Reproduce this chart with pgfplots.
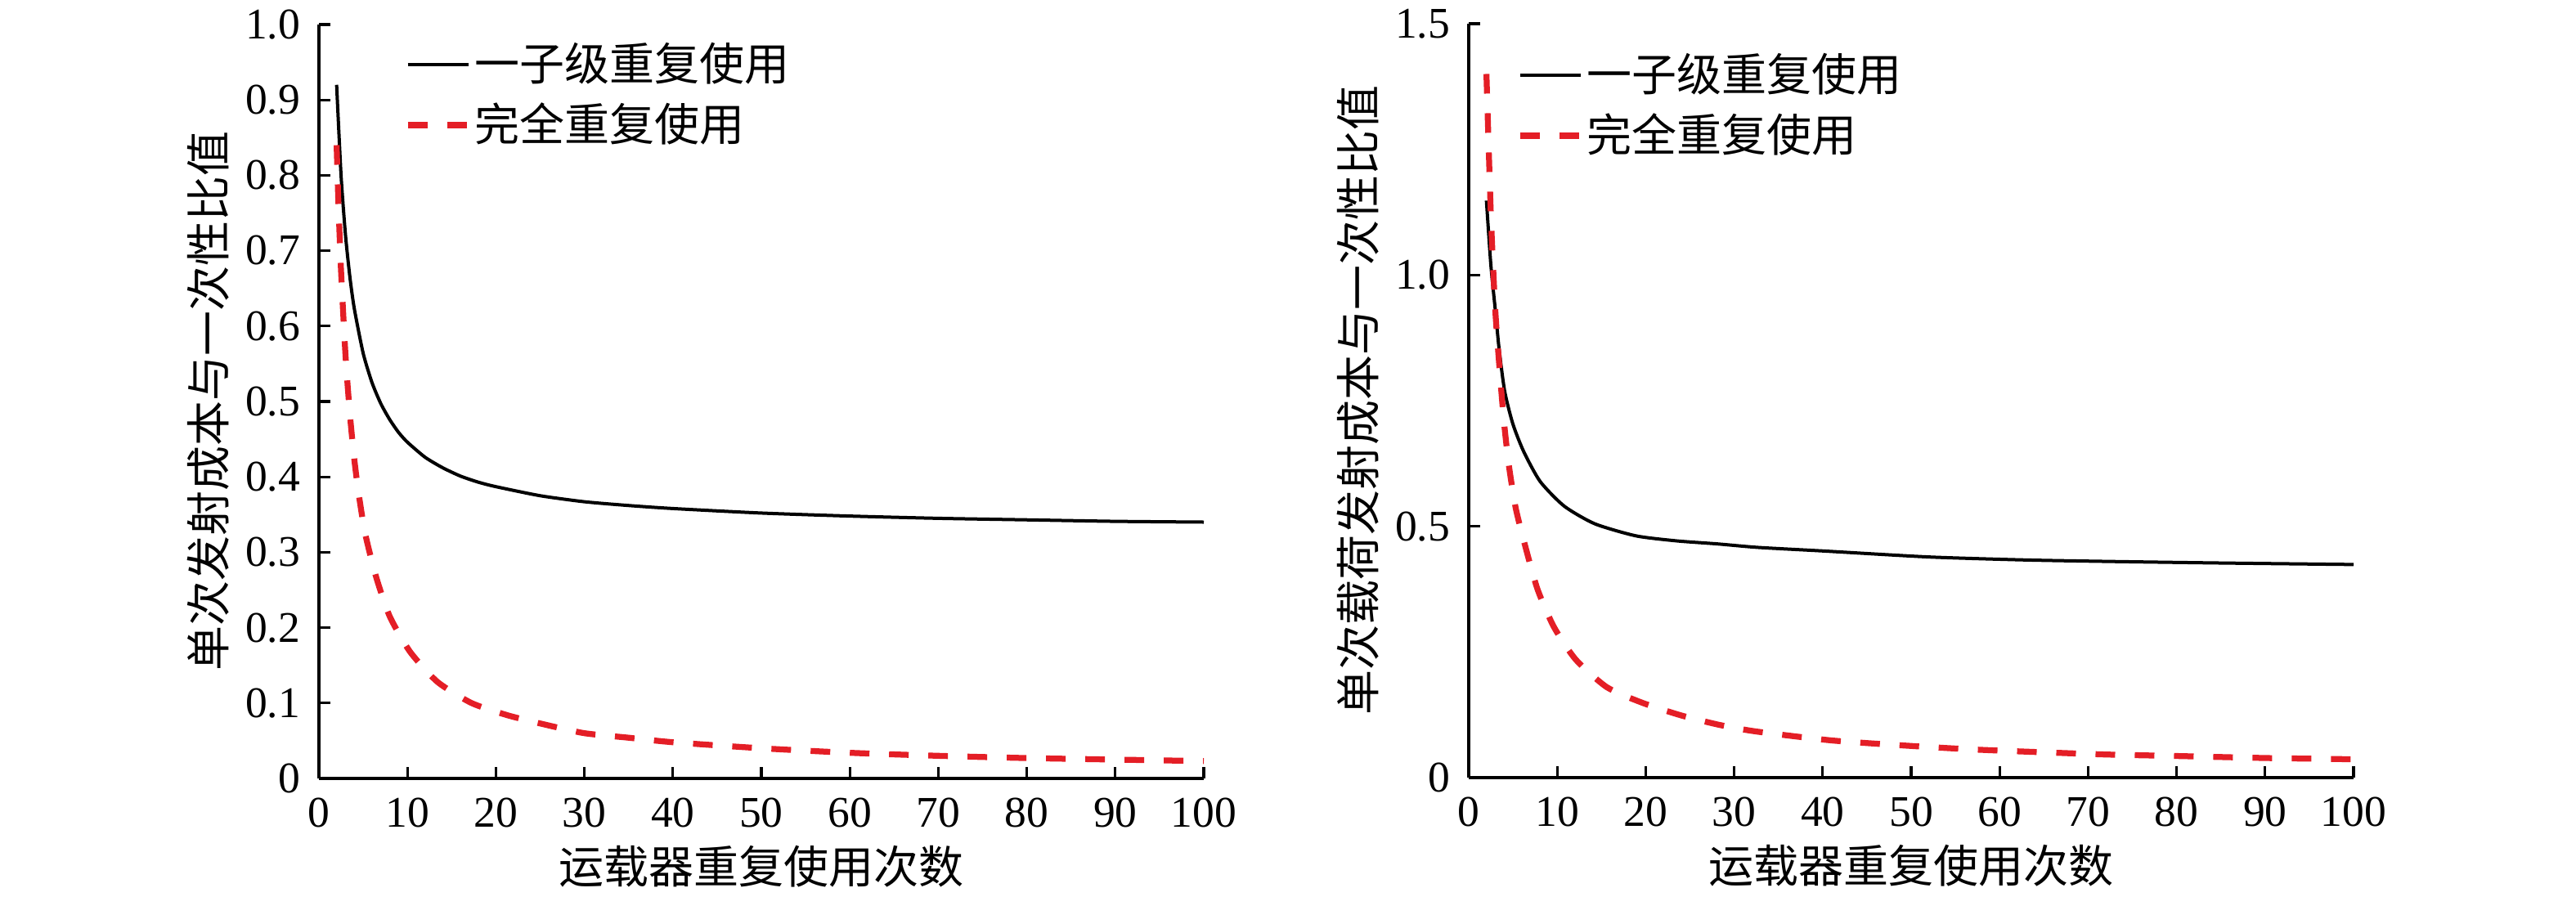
\documentclass[border=0pt]{standalone}
\usepackage{fontspec}
\setmainfont{Liberation Serif}
\newfontfamily\cjk{Noto Sans CJK SC}
\usepackage{pgfplots}
\pgfplotsset{compat=1.18}
\definecolor{myred}{RGB}{228,30,38}
\pgfplotsset{
  mystyle/.style={
    scale only axis, width=216.4pt, height=184.4pt,
    axis lines=left, axis line style={-, line width=0.65pt},
    xmin=0, xmax=100, xtick={0,10,...,100},
    tick align=inside, major tick length=2.7pt, tick style={line width=0.65pt, black},
    /pgf/number format/assume math mode=true,
    tick label style={font=\fontsize{10.7}{12}\selectfont},
    xticklabel style={inner sep=0pt, anchor=north, yshift=-4.6pt},
    yticklabel style={inner sep=0pt, anchor=east, xshift=-4.4pt},
    label style={font=\cjk\fontsize{11}{13}\selectfont},
    xlabel style={at={(axis description cs:0.5,-0.117)}, anchor=center},
    ylabel style={at={(axis description cs:-0.125,0.5)}, anchor=center},
    legend style={anchor=north west, draw=none, fill=none, inner sep=0pt, row sep=2.2pt,
      font=\cjk\fontsize{11}{13}\selectfont, nodes={inner sep=0.9pt}, cells={anchor=west}},
    legend image code/.code={\draw[##1] (0pt,0pt) -- (14.8pt,0pt);},
    xlabel={运载器重复使用次数},
  },
  blk/.style={black, line width=0.8pt, smooth, tension=0.4},
  rd/.style={myred, line width=1.45pt, dash pattern=on 4.8pt off 4.8pt, smooth, tension=0.4},
}
\begin{document}
\begin{tikzpicture}
\useasboundingbox (0,0) rectangle (630pt,219.4pt);
\begin{axis}[mystyle, at={(78pt,29pt)}, anchor=south west,
  ymin=0, ymax=1, ytick={0,0.1,...,1.0},
  yticklabels={0,0.1,0.2,0.3,0.4,0.5,0.6,0.7,0.8,0.9,1.0},
  ylabel={单次发射成本与一次性比值},
  legend style={at={(axis description cs:0.0961,0.982)}}]
\addplot[blk] coordinates {
(2,0.92)(2.5,0.80)(3,0.721)(3.5,0.665)(4,0.623)(5,0.564)(6,0.525)(7,0.497)(8,0.476)(9,0.459)
(10,0.446)(12,0.426)(14,0.412)(16,0.401)(18,0.393)(20,0.387)(25,0.375)(30,0.367)(35,0.362)
(40,0.358)(50,0.352)(60,0.348)(70,0.345)(80,0.343)(90,0.341)(100,0.340)};
\addlegendentry{一子级重复使用}
\addplot[rd] coordinates {
(2,0.84)(2.2,0.764)(2.5,0.673)(3,0.562)(3.5,0.483)(4,0.423)(4.5,0.377)(5.24,0.324)(6.47,0.267)
(8,0.215)(10.3,0.168)(13.4,0.128)(17.25,0.100)(21.4,0.0835)(25.7,0.071)(30,0.060)(35,0.054)
(40,0.048)(50,0.040)(60,0.034)(70,0.030)(80,0.027)(90,0.025)(100,0.023)};
\addlegendentry{完全重复使用}
\end{axis}
\begin{axis}[mystyle, at={(359.2pt,29.2pt)}, anchor=south west,
  ymin=0, ymax=1.5, ytick={0,0.5,1.0,1.5},
  yticklabels={0,0.5,1.0,1.5},
  ylabel={单次载荷发射成本与一次性比值},
  legend style={at={(axis description cs:0.0536,0.967)}}]
\addplot[blk] coordinates {
(2,1.148)(2.5,1.02)(3,0.931)(3.45,0.85)(4.07,0.768)(5,0.703)(6.23,0.648)(8.08,0.589)(10.8,0.540)
(14.25,0.505)(18.9,0.481)(23.5,0.471)(28.1,0.465)(32.7,0.458)(40,0.451)(52,0.439)(63,0.433)
(72.7,0.430)(85,0.427)(100,0.424)};
\addlegendentry{一子级重复使用}
\addplot[rd] coordinates {
(2,1.40)(2.5,1.12)(3,0.93)(3.61,0.785)(4,0.705)(4.53,0.622)(5.3,0.537)(6.38,0.461)(7.77,0.375)
(9.62,0.300)(12.09,0.235)(15.6,0.180)(19.6,0.149)(23.96,0.124)(28.3,0.105)(32.4,0.092)(41,0.074)
(50,0.063)(57,0.056)(64,0.051)(72,0.046)(80,0.043)(90,0.039)(100,0.0365)};
\addlegendentry{完全重复使用}
\end{axis}
\end{tikzpicture}
\end{document}
